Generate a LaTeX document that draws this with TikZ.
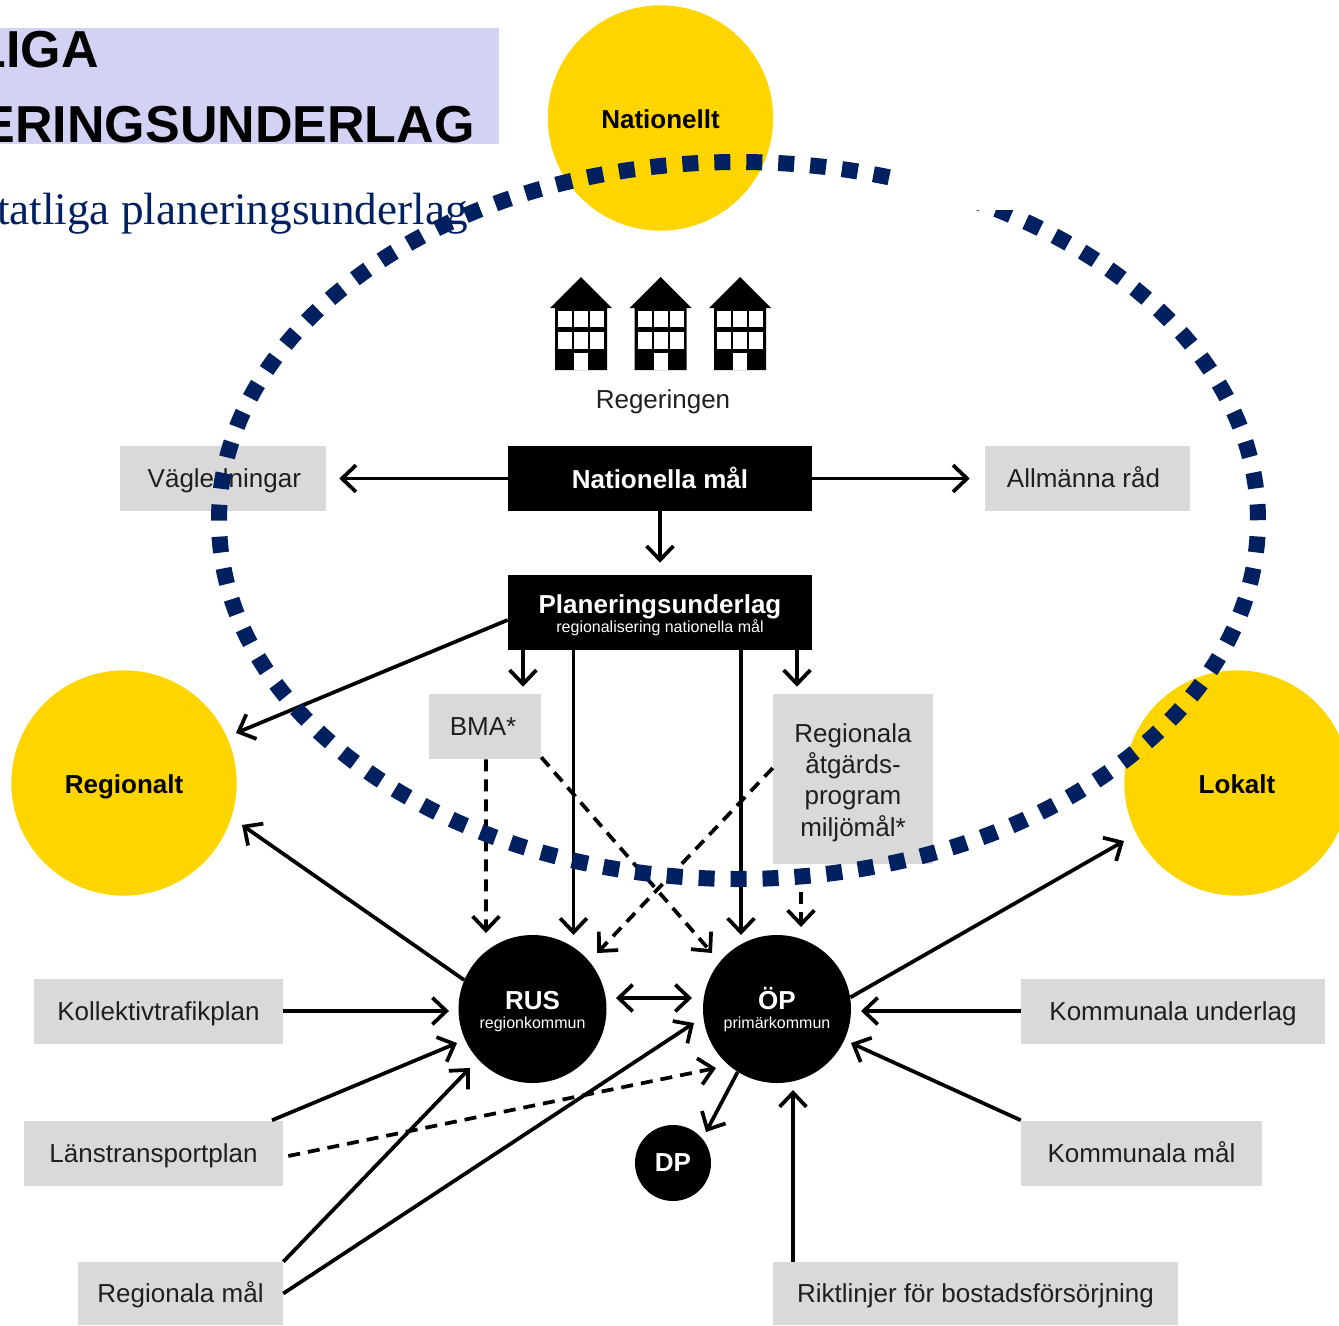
\documentclass[tikz,border=0pt]{standalone}
\usepackage{fontspec}
\usepackage{xcolor}
\usetikzlibrary{arrows.meta}
\setmainfont{Liberation Sans}
\newfontfamily\titleserif{Liberation Serif}
\newcommand{\bigtxt}{\fontsize{19.5}{23.4}\selectfont}
\newcommand{\smalltxt}{\fontsize{12}{16}\selectfont}
\definecolor{sunyellow}{HTML}{FFD500}
\definecolor{boxgray}{HTML}{D9D9D9}
\definecolor{ringblue}{HTML}{002060}
\definecolor{titlebg}{HTML}{D2D2F4}
\tikzset{
	grybox/.style={fill=boxgray,inner sep=0pt,minimum height=48.75pt,text height=14pt,text depth=0pt,font=\bigtxt,text=black!88,align=center},
	blkbox/.style={fill=black,inner sep=0pt,minimum width=228pt,text=white,font=\bigtxt\bfseries,align=center},
	sunball/.style={circle,fill=sunyellow,inner sep=0pt,minimum size=169pt,text height=15pt,text depth=0pt,font=\bigtxt\bfseries},
	blkball/.style={circle,fill=black,inner sep=0pt,minimum size=111pt,text=white,font=\bigtxt\bfseries,align=center},
	barb/.tip={Straight Barb[length=10.5pt,width=20pt]},
	arr/.style={-barb,line width=2.8pt},
	biarr/.style={barb-barb,line width=2.8pt},
	dasharr/.style={arr,dash pattern=on 9pt off 6pt},
}
\begin{document}
\begin{tikzpicture}[x=0.75pt,y=-0.75pt]
	\useasboundingbox (0,0) rectangle (1339,1325);

	\node[fill=titlebg,inner sep=0pt,minimum width=374.25pt,minimum height=87pt] (titlebar) at (249.5,86) {};
	\node[anchor=base east,inner sep=0pt,font=\fontsize{39}{39}\selectfont\bfseries] (titleone) at (99,67) {LIGA};
	\node[anchor=base east,inner sep=0pt,font=\fontsize{39}{39}\selectfont\bfseries] (titletwo) at (475,142) {ERINGSUNDERLAG};
	\node[anchor=base east,inner sep=0pt,text=ringblue,font=\fontsize{33.9}{36}\titleserif] (subtitle) at (468,224) {tatliga planeringsunderlag};

	\node[sunball] (nat) at (660.5,118) {Nationellt};
	\node[sunball] (regt) at (124,783) {Regionalt};
	\node[sunball] (lok) at (1237,783) {Lokalt};

	\foreach \hx in {581,660.5,740}{
		\fill (\hx,277) -- (\hx+31,308) -- (\hx+26,308) -- (\hx+26,370) -- (\hx-26,370) -- (\hx-26,308) -- (\hx-31,308) -- cycle;
		\foreach \wx in {-23,-7,9}{
			\fill[white] (\hx+\wx,311) rectangle (\hx+\wx+14,327);
			\fill[white] (\hx+\wx,332) rectangle (\hx+\wx+14,349);
		}
		\fill[white] (\hx-7,353) rectangle (\hx+7,370);
	}
	\node[font=\bigtxt,text=black!88] (reger) at (663,402) {Regeringen};

	\node[blkbox,minimum height=48.75pt,text height=15pt] (natmal) at (660,478.5) {Nationella m\aa l};
	\node[blkbox,minimum height=56.25pt,text height=33pt] (planu) at (660,612.5) {Planeringsunderlag\\[-9.25pt]{\smalltxt\mdseries regionalisering nationella m\aa l}};

	\node[grybox,minimum width=154.5pt] (vagl) at (223,478.5) {\hspace*{2pt}V\"agledningar};
	\node[grybox,minimum width=153.75pt] (allm) at (1087.5,478.5) {Allm\"anna r\aa d\hspace*{6pt}};
	\node[grybox,minimum width=84pt] (bma) at (485,726.5) {BMA*\hspace*{3pt}};
	\node[grybox,minimum width=120pt,minimum height=127.5pt,text height=85.5pt] (regprog) at (853,779) {Regionala\\åtgärds-\\program\\miljömål*};
	\node[grybox,minimum width=186.75pt] (koll) at (158.5,1011) {Kollektivtrafikplan};
	\node[grybox,minimum width=194.25pt] (lans) at (153.5,1153) {Länstransportplan};
	\node[grybox,minimum width=153.75pt,minimum height=47.25pt] (rmal) at (180.5,1293.5) {Regionala mål};
	\node[grybox,minimum width=228pt] (komu) at (1173,1011) {Kommunala underlag};
	\node[grybox,minimum width=180.75pt] (komm) at (1141.5,1153) {Kommunala mål};
	\node[grybox,minimum width=303.75pt,minimum height=47.25pt] (rikt) at (975.5,1293.5) {Riktlinjer för bostadsförsörjning};

	\node[blkball,text height=32pt] (rus) at (532.5,1009) {RUS\\[-9.25pt]{\smalltxt\mdseries regionkommun}};
	\node[blkball,text height=32pt] (op) at (777,1009) {ÖP\\[-9.25pt]{\smalltxt\mdseries primärkommun}};
	\node[blkball,minimum size=57pt] (dp) at (673,1163) {DP};

	\draw[arr,shorten >=9.75pt] (natmal.west) -- (vagl.east);
	\draw[arr,shorten >=11.25pt] (natmal.east) -- (allm.west);
	\draw[arr,shorten >=9pt] (natmal.south) -- (planu.north);
	\draw[arr,shorten >=5.25pt] ([xshift=-102.75pt]planu.south) -- ([xshift=28.5pt]bma.north);
	\draw[arr,shorten >=5.25pt] ([xshift=102.75pt]planu.south) -- ([xshift=-42pt]regprog.north);
	\draw[arr] ([xshift=-64.875pt]planu.south) -- ([xshift=30.75pt,yshift=55.5pt]rus.center);
	\draw[arr] ([xshift=60.75pt]planu.south) -- ([xshift=-27pt,yshift=55.5pt]op.center);
	\draw[arr] ([yshift=-5.6pt]planu.west) -- ([xshift=84pt,yshift=37.5pt]regt.center);
	\draw[arr] (rus.157) -- ([xshift=88.5pt,yshift=-31.5pt]regt.center);
	\draw[arr] (op.9) -- ([xshift=-84.75pt,yshift=-43.5pt]lok.center);
	\draw[arr] (koll.east) -- ([xshift=-62.6pt,yshift=-1.5pt]rus.center);
	\draw[arr] ([xshift=88.9pt]lans.north) -- ([xshift=-56.6pt,yshift=-25.5pt]rus.center);
	\draw[arr] (rmal.north east) -- ([xshift=-46.9pt,yshift=-44.25pt]rus.center);
	\draw[arr] (rmal.east) -- ([xshift=-62.25pt,yshift=-10.5pt]op.center);
	\draw[biarr] ([xshift=62.6pt,yshift=8.25pt]rus.center) -- ([xshift=-63.75pt,yshift=8.25pt]op.center);
	\draw[arr] (komu.west) -- ([xshift=63pt,yshift=-1.5pt]op.center);
	\draw[arr] (komm.north west) -- ([xshift=55.5pt,yshift=-25.5pt]op.center);
	\draw[arr] ([xshift=-136.9pt]rikt.north) -- ([xshift=12pt,yshift=-60.75pt]op.center);
	\draw[arr] (op.-122) -- ([xshift=24.75pt,yshift=23.25pt]dp.center);

	\draw[dasharr] ([xshift=3.75pt,yshift=-2.25pt]lans.east) -- ([xshift=-45.75pt,yshift=-44.25pt]op.center);
	\draw[dasharr] ([xshift=0.75pt]bma.south) -- ([xshift=-34.9pt,yshift=57pt]rus.center);
	\draw[dasharr] ([yshift=1.5pt]bma.south east) -- ([xshift=-48.75pt,yshift=42pt]op.center);
	\draw[dasharr] ([yshift=8.25pt]regprog.west) -- ([xshift=48.4pt,yshift=42pt]rus.center);
	\draw[dasharr,dash phase=9pt] ([xshift=-39pt]regprog.south) -- ([xshift=18pt,yshift=61.5pt]op.center);

	\draw[ringblue,line width=12pt,dash pattern=on 12pt off 11.98pt,dash phase=12pt] (738.5,520.5) ellipse [x radius=519.5,y radius=358.5];
	\fill[white] (892,140) rectangle (1020,210);
\end{tikzpicture}
\end{document}
